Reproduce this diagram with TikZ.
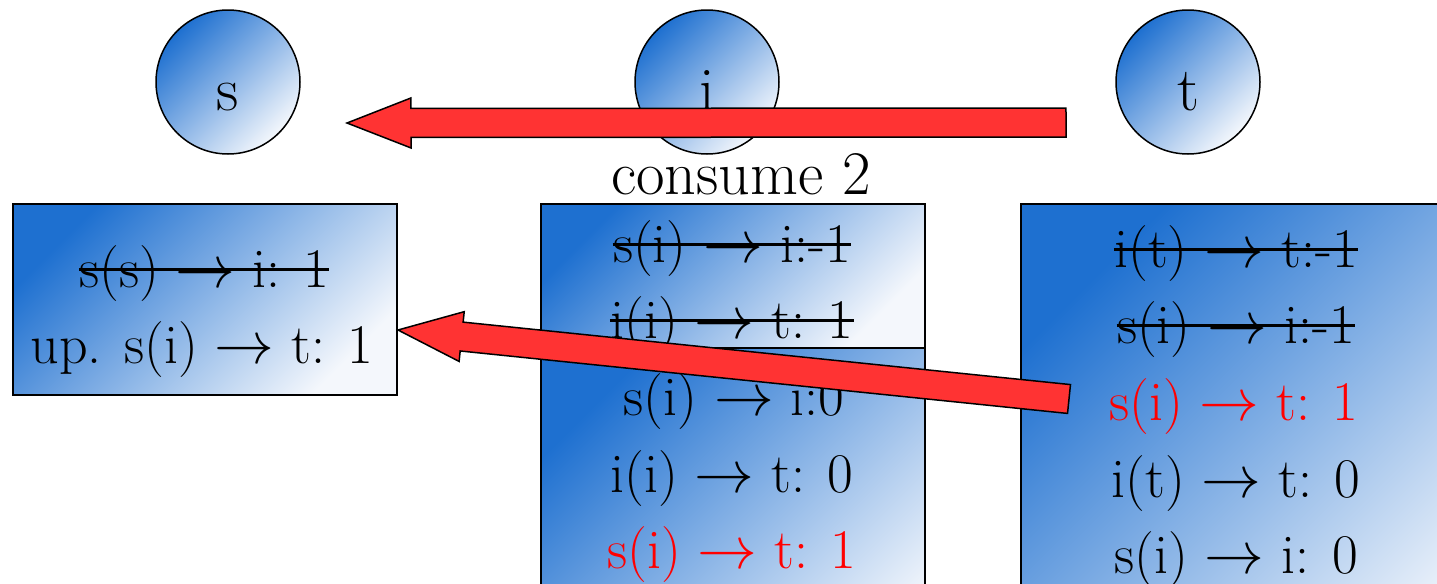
\documentclass[tikz,border=0pt]{standalone}
\usetikzlibrary{calc}
\definecolor{panelblue}{RGB}{30,112,208}
\definecolor{panelmid}{RGB}{142,186,232}
\definecolor{panelwhite}{RGB}{244,247,252}
\definecolor{arrowred}{RGB}{255,51,51}
\tikzset{
  shade/.style={draw=black, line width=0.75pt, shading=axis, top color=panelblue, middle color=panelmid, bottom color=panelwhite, shading angle=45},
  vertex/.style={shade, circle, minimum size=72pt, inner sep=0pt},
  panel/.style={shade, rectangle, anchor=north west, inner sep=0pt},
  entry/.style={anchor=base, inner sep=0pt, font=\fontsize{28}{34}\selectfont},
  bigentry/.style={entry, font=\fontsize{31}{36}\selectfont},
  strike/.style={line width=1.5pt},
}
%% arrow sign, math font stops at 24.88pt
\newcommand{\go}{\scalebox{1.2}{$\rightarrow$}}
%% line through an entry
\newcommand{\strikeout}[1]{\draw[strike] ([yshift=9pt]#1.base west) -- ([yshift=9pt]#1.base east);}
%% big red block arrow from #1 (tail) to #2 (tip)
\newcommand{\blockarrow}[2]{%
  \coordinate (hb) at ($(#2)!32pt!(#1)$);
  \filldraw[fill=arrowred, draw=black, line width=0.75pt]
    ($(#1)!7.25pt!90:(#2)$) -- ($(hb)!7.25pt!90:(#2)$) -- ($(hb)!12.5pt!90:(#2)$) -- (#2)
    -- ($(hb)!12.5pt!-90:(#2)$) -- ($(hb)!7.25pt!-90:(#2)$) -- ($(#1)!7.25pt!-90:(#2)$) -- cycle;}

\begin{document}
\begin{tikzpicture}[x=0.5pt,y=-0.5pt]
\useasboundingbox (0,0) rectangle (1437,584);
%% vertices
\node[vertex] (s) at (228,82) {};
\node[vertex] (i) at (707,82) {};
\node[vertex] (t) at (1188,82) {};
\node[bigentry] (sl) at (228,110) {s};
\node[bigentry] (il) at (707,110) {i};
\node[bigentry] (tl) at (1188,110) {t};
\node[bigentry] (cons) at (741,194) {consume 2};
%% panels
\node[panel, minimum width=192pt, minimum height=95.5pt] (sbox) at (12,203) {};
\node[panel, minimum width=192pt, minimum height=72pt] (iold) at (540,203) {};
\node[panel, minimum width=192pt, minimum height=180pt] (inew) at (540,347) {};
\node[panel, minimum width=240pt, minimum height=252pt] (tbox) at (1020,203) {};
%% s
\node[entry] (s1) at (204,287) {s(s) \go{} i: 1};
\node[entry] (s2) at (202,363) {up. s(i) \go{} t: 1};
%% i
\node[entry] (i1) at (732,262) {s(i) \go{} i:-1};
\node[entry] (i2) at (732,338) {i(i) \go{} t: 1};
\node[entry] (i3) at (734,415) {s(i) \go{} i:0};
\node[entry] (i4) at (732,492) {i(i) \go{} t: 0};
\node[entry, red] (i5) at (732,568) {s(i) \go{} t: 1};
%% t
\node[entry] (t1) at (1236,267) {i(t) \go{} t:-1};
\node[entry] (t2) at (1236,343) {s(i) \go{} i:-1};
\node[entry, red] (t3) at (1234,420) {s(i) \go{} t: 1};
\node[entry] (t4) at (1236,497) {i(t) \go{} t: 0};
\node[entry] (t5) at (1236,573) {s(i) \go{} i: 0};
\strikeout{s1}
\strikeout{i1}
\strikeout{i2}
\strikeout{t1}
\strikeout{t2}
%% arrows
\coordinate (tailtop) at (1066,122.5);
\coordinate (tiptop) at (347,123);
\coordinate (tailbot) at (1069,399);
\coordinate (tipbot) at (398,330);
\blockarrow{tailtop}{tiptop}
\blockarrow{tailbot}{tipbot}
\end{tikzpicture}
\end{document}
